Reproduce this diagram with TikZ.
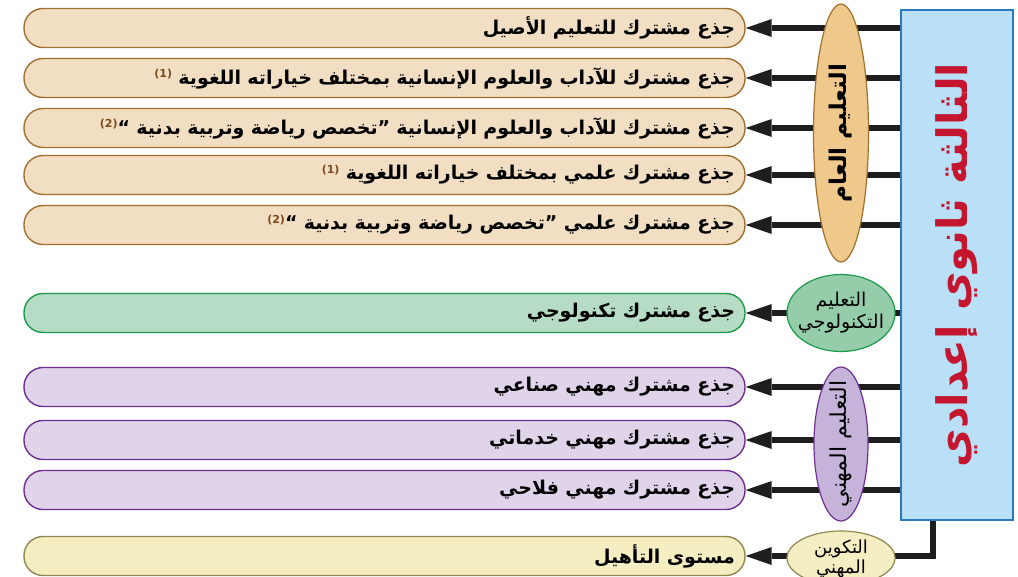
\documentclass[tikz,border=0pt]{standalone}
\usepackage{fontspec}
\usetikzlibrary{arrows.meta,shapes.geometric,backgrounds}
\TeXXeTstate=1
\newfontfamily\arabicfont[Script=Arabic]{DejaVu Sans}
\definecolor{tanfill}{HTML}{F2DFC3}
\definecolor{tanline}{HTML}{A0702F}
\definecolor{orangeell}{HTML}{EFC98B}
\definecolor{greenfill}{HTML}{B6DCC6}
\definecolor{greenline}{HTML}{1C9A4A}
\definecolor{greenell}{HTML}{95CCAA}
\definecolor{purpfill}{HTML}{E0D4EA}
\definecolor{purpline}{HTML}{702F8F}
\definecolor{purpell}{HTML}{C5B3D9}
\definecolor{yelfill}{HTML}{F4EEC2}
\definecolor{yelline}{HTML}{8F8850}
\definecolor{bluefill}{HTML}{B9E0F6}
\definecolor{blueline}{HTML}{2B79C0}
\definecolor{redtext}{HTML}{C4162E}
\definecolor{conncol}{HTML}{1E1E1E}
\definecolor{supcol}{HTML}{7A4A1E}
\newcommand\supn[1]{{\color{supcol}\raisebox{0.6ex}{\fontsize{11}{11}\selectfont(#1)}}}
\tikzset{
  box/.style={rectangle, rounded corners=19pt, minimum width=721pt, minimum height=39pt,
    text width=701pt, align=right, inner xsep=10pt, inner ysep=0pt, line width=1.4pt,
    font=\arabicfont\bfseries\fontsize{19}{21}\selectfont},
  tanbox/.style={box, draw=tanline, fill=tanfill},
  greenbox/.style={box, draw=greenline, fill=greenfill},
  purpbox/.style={box, draw=purpline, fill=purpfill},
  yelbox/.style={box, draw=yelline, fill=yelfill},
  ell/.style={ellipse, inner sep=0pt, line width=1.2pt},
  elltext/.style={inner sep=0pt, align=center},
  conn/.style={draw=conncol, line width=6.5pt, -{Triangle[length=26pt,width=18pt,line width=0pt]}},
}
\begin{document}
\begin{tikzpicture}[x=1pt,y=-1pt]
\clip (0,0) rectangle (1018,576);
\useasboundingbox (0,0) rectangle (1018,576);
% boxes
\node[tanbox] (b1) at (384.5,28) {\beginR جذع مشترك للتعليم  الأصيل\endR};
\node[tanbox] (b2) at (384.5,78) {\supn{1}\beginR جذع مشترك للآداب والعلوم الإنسانية بمختلف خياراته اللغوية \endR};
\node[tanbox] (b3) at (384.5,128) {\supn{2}\beginR جذع مشترك للآداب والعلوم الإنسانية ”تخصص رياضة وتربية بدنية “\endR};
\node[tanbox] (b4) at (384.5,175) {\supn{1}\beginR جذع مشترك علمي بمختلف خياراته اللغوية \endR};
\node[tanbox] (b5) at (384.5,225) {\supn{2}\beginR جذع مشترك علمي ”تخصص رياضة وتربية بدنية “\endR};
\node[greenbox] (b6) at (384.5,313) {\beginR جذع مشترك تكنولوجي\endR};
\node[purpbox] (b7) at (384.5,387) {\beginR جذع مشترك مهني صناعي\endR};
\node[purpbox] (b8) at (384.5,440) {\beginR جذع مشترك مهني خدماتي\endR};
\node[purpbox] (b9) at (384.5,490) {\beginR جذع مشترك مهني فلاحي\endR};
\node[yelbox] (b10) at (384.5,556) {\beginR مستوى التأهيل\endR};
% main block
\node[rectangle, rotate=90, minimum width=510pt, minimum height=112pt, fill=bluefill, draw=blueline, line width=1.5pt,
  text=redtext, font=\arabicfont\bfseries\fontsize{42}{44}\selectfont] (main) at (957,265) {\beginR الثالثة ثانوي إعدادي\endR};
% ellipses
\node[ell, minimum width=55pt, minimum height=258pt, fill=orangeell, draw=tanline] (gen) at (841,133) {};
\node[elltext, rotate=90, font=\arabicfont\bfseries\fontsize{23}{25}\selectfont] (genT) at (gen.center) {\beginR التعليم العام\endR};
\node[ell, minimum width=108pt, minimum height=77pt, fill=greenell, draw=greenline] (tech) at (841,313) {};
\node[elltext, font=\arabicfont\fontsize{19}{22}\selectfont] (techT) at (tech.center) {\beginR التعليم\endR\\\beginR التكنولوجي\endR};
\node[ell, minimum width=54pt, minimum height=154pt, fill=purpell, draw=purpline] (voc) at (841,444) {};
\node[elltext, rotate=90, font=\arabicfont\fontsize{22}{24}\selectfont] (vocT) at (voc.center) {\beginR التعليم المهني\endR};
\node[ell, minimum width=108pt, minimum height=54pt, fill=yelfill, draw=yelline] (train) at (841,558) {};
\node[elltext, font=\arabicfont\fontsize{18}{20}\selectfont] (trainT) at ([yshift=-1pt]train.center) {\beginR التكوين\endR\\\beginR المهني\endR};
% connectors
\begin{pgfonlayer}{background}
\foreach \b in {b1,b2,b3,b4,b5,b6,b7,b8,b9}{
  \draw[conn] (main.north |- \b.east) -- (\b.east);
}
\draw[conn] ([xshift=-24pt]main.west) |- (b10.east);
\end{pgfonlayer}
\end{tikzpicture}
\end{document}
